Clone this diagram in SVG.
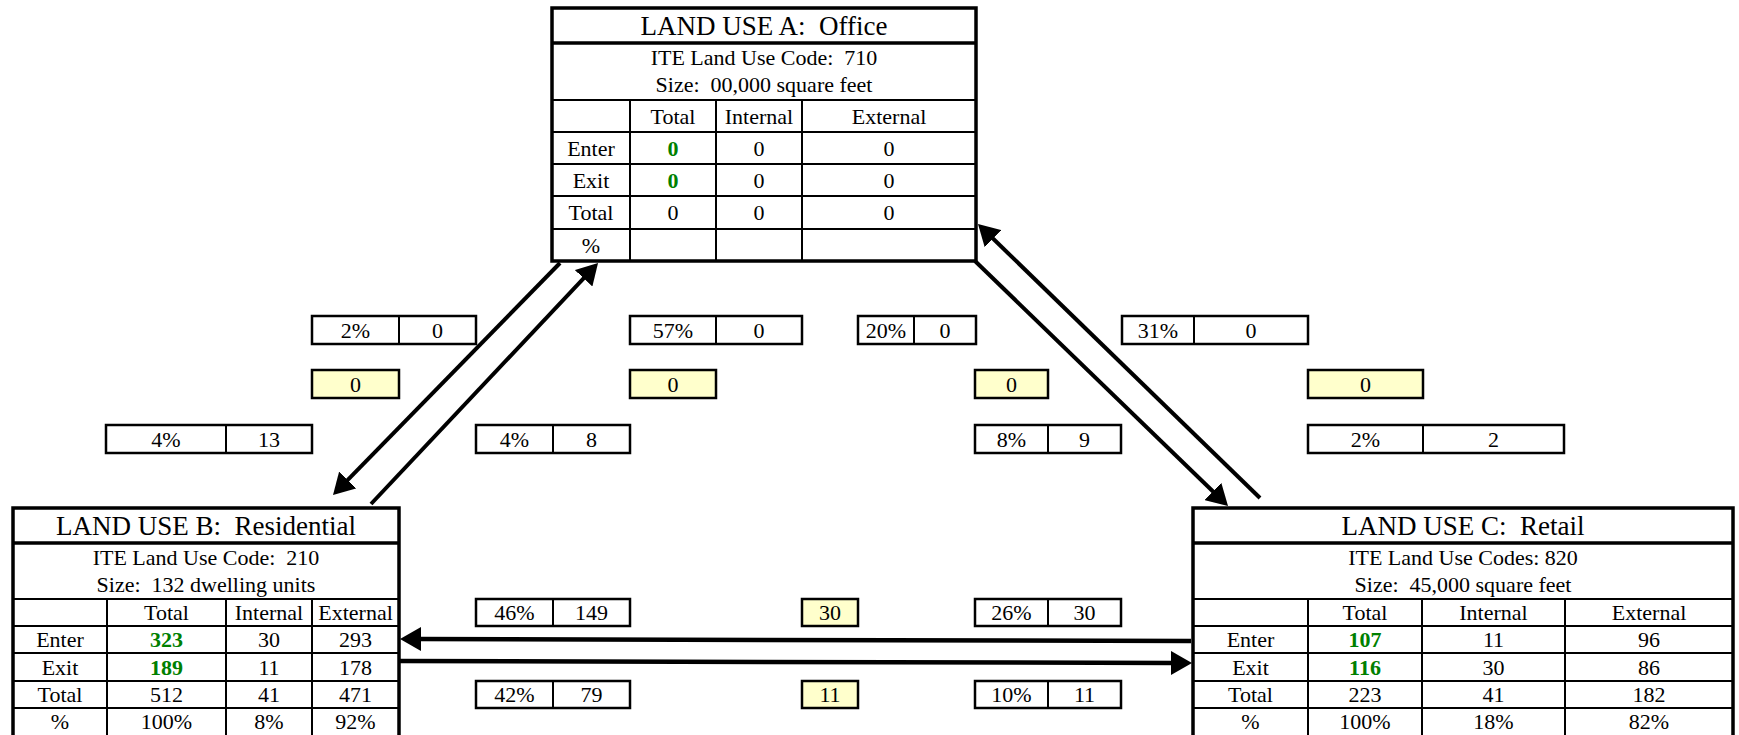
<svg xmlns="http://www.w3.org/2000/svg" width="1739" height="735" viewBox="0 0 1739 735" xml:space="preserve">
  <defs>
    <style>
      text { font-family: "Liberation Serif", "Times New Roman", serif; fill: #000; text-anchor: middle; white-space: pre; }
      .title { font-size: 27px; }
      .sub { font-size: 22px; }
      .cell { font-size: 22px; }
      .green { fill: #008000; font-weight: bold; }
      .frame { fill: #fff; stroke: #000; stroke-width: 3.5; }
      .thick { stroke: #000; stroke-width: 3.5; }
      .grid { stroke: #000; stroke-width: 2; }
      .box { fill: #fff; stroke: #000; stroke-width: 2.5; }
      .ybox { fill: #ffffcc; stroke: #000; stroke-width: 2.5; }
      .conn { fill: none; stroke: #000; stroke-width: 4; marker-end: url(#ah); }
      .hconn { fill: none; stroke: #000; stroke-width: 4.5; marker-end: url(#ah); }
    </style>
    <marker id="ah" markerUnits="userSpaceOnUse" markerWidth="22" markerHeight="24" viewBox="0 0 22 24" refX="3" refY="12" orient="auto">
      <path d="M0,0 L21,12 L0,24 z" fill="#000"/>
    </marker>
  </defs>

  <rect width="1739" height="735" fill="#fff"/>

  <!-- Land use A: Office -->
  <g id="land-use-a">
    <rect class="frame" x="552" y="8" width="424" height="253"/>
    <line class="thick" x1="552" y1="43" x2="976" y2="43"/>
    <line class="grid" x1="552" y1="100" x2="976" y2="100"/>
    <line class="grid" x1="552" y1="132" x2="976" y2="132"/>
    <line class="grid" x1="552" y1="164" x2="976" y2="164"/>
    <line class="grid" x1="552" y1="196" x2="976" y2="196"/>
    <line class="grid" x1="552" y1="229" x2="976" y2="229"/>
    <line class="grid" x1="630" y1="100" x2="630" y2="261"/>
    <line class="grid" x1="716" y1="100" x2="716" y2="261"/>
    <line class="grid" x1="802" y1="100" x2="802" y2="261"/>
    <text class="title" x="764" y="35">LAND USE A:  Office</text>
    <text class="sub" x="764" y="65">ITE Land Use Code:  710</text>
    <text class="sub" x="764" y="92">Size:  00,000 square feet</text>
    <g class="cell">
      <text x="673" y="124">Total</text><text x="759" y="124">Internal</text><text x="889" y="124">External</text>
      <text x="591" y="156">Enter</text><text class="green" x="673" y="156">0</text><text x="759" y="156">0</text><text x="889" y="156">0</text>
      <text x="591" y="188">Exit</text><text class="green" x="673" y="188">0</text><text x="759" y="188">0</text><text x="889" y="188">0</text>
      <text x="591" y="220">Total</text><text x="673" y="220">0</text><text x="759" y="220">0</text><text x="889" y="220">0</text>
      <text x="591" y="253">%</text>
    </g>
  </g>

  <!-- Land use B: Residential -->
  <g id="land-use-b">
    <rect class="frame" x="13" y="508" width="386" height="232"/>
    <line class="thick" x1="13" y1="543" x2="399" y2="543"/>
    <line class="grid" x1="13" y1="599" x2="399" y2="599"/>
    <line class="grid" x1="13" y1="626" x2="399" y2="626"/>
    <line class="grid" x1="13" y1="653" x2="399" y2="653"/>
    <line class="grid" x1="13" y1="681" x2="399" y2="681"/>
    <line class="grid" x1="13" y1="708" x2="399" y2="708"/>
    <line class="grid" x1="107" y1="599" x2="107" y2="740"/>
    <line class="grid" x1="226" y1="599" x2="226" y2="740"/>
    <line class="grid" x1="312" y1="599" x2="312" y2="740"/>
    <text class="title" x="206" y="535">LAND USE B:  Residential</text>
    <text class="sub" x="206" y="565">ITE Land Use Code:  210</text>
    <text class="sub" x="206" y="592">Size:  132 dwelling units</text>
    <g class="cell">
      <text x="166.5" y="620">Total</text><text x="269" y="620">Internal</text><text x="355.5" y="620">External</text>
      <text x="60" y="647">Enter</text><text class="green" x="166.5" y="647">323</text><text x="269" y="647">30</text><text x="355.5" y="647">293</text>
      <text x="60" y="674.5">Exit</text><text class="green" x="166.5" y="674.5">189</text><text x="269" y="674.5">11</text><text x="355.5" y="674.5">178</text>
      <text x="60" y="702">Total</text><text x="166.5" y="702">512</text><text x="269" y="702">41</text><text x="355.5" y="702">471</text>
      <text x="60" y="729">%</text><text x="166.5" y="729">100%</text><text x="269" y="729">8%</text><text x="355.5" y="729">92%</text>
    </g>
  </g>

  <!-- Land use C: Retail -->
  <g id="land-use-c">
    <rect class="frame" x="1193" y="508" width="540" height="232"/>
    <line class="thick" x1="1193" y1="543" x2="1733" y2="543"/>
    <line class="grid" x1="1193" y1="599" x2="1733" y2="599"/>
    <line class="grid" x1="1193" y1="626" x2="1733" y2="626"/>
    <line class="grid" x1="1193" y1="653" x2="1733" y2="653"/>
    <line class="grid" x1="1193" y1="681" x2="1733" y2="681"/>
    <line class="grid" x1="1193" y1="708" x2="1733" y2="708"/>
    <line class="grid" x1="1308" y1="599" x2="1308" y2="740"/>
    <line class="grid" x1="1422" y1="599" x2="1422" y2="740"/>
    <line class="grid" x1="1565" y1="599" x2="1565" y2="740"/>
    <text class="title" x="1463" y="535">LAND USE C:  Retail</text>
    <text class="sub" x="1463" y="565">ITE Land Use Codes: 820</text>
    <text class="sub" x="1463" y="592">Size:  45,000 square feet</text>
    <g class="cell">
      <text x="1365" y="620">Total</text><text x="1493.5" y="620">Internal</text><text x="1649" y="620">External</text>
      <text x="1250.5" y="647">Enter</text><text class="green" x="1365" y="647">107</text><text x="1493.5" y="647">11</text><text x="1649" y="647">96</text>
      <text x="1250.5" y="674.5">Exit</text><text class="green" x="1365" y="674.5">116</text><text x="1493.5" y="674.5">30</text><text x="1649" y="674.5">86</text>
      <text x="1250.5" y="702">Total</text><text x="1365" y="702">223</text><text x="1493.5" y="702">41</text><text x="1649" y="702">182</text>
      <text x="1250.5" y="729">%</text><text x="1365" y="729">100%</text><text x="1493.5" y="729">18%</text><text x="1649" y="729">82%</text>
    </g>
  </g>

  <!-- Internal trip split boxes -->
  <g id="trip-splits" class="cell">
    <!-- upper row: share and trips -->
    <rect class="box" x="312" y="316" width="164" height="28"/><line class="grid" x1="399" y1="316" x2="399" y2="344"/>
    <text x="355.5" y="338">2%</text><text x="437.5" y="338">0</text>
    <rect class="box" x="630" y="316" width="172" height="28"/><line class="grid" x1="716" y1="316" x2="716" y2="344"/>
    <text x="673" y="338">57%</text><text x="759" y="338">0</text>
    <rect class="box" x="858" y="316" width="118" height="28"/><line class="grid" x1="914" y1="316" x2="914" y2="344"/>
    <text x="886" y="338">20%</text><text x="945" y="338">0</text>
    <rect class="box" x="1122" y="316" width="186" height="28"/><line class="grid" x1="1194" y1="316" x2="1194" y2="344"/>
    <text x="1158" y="338">31%</text><text x="1251" y="338">0</text>

    <!-- balanced internal trips -->
    <rect class="ybox" x="312" y="370" width="87" height="28"/><text x="355.5" y="391.5">0</text>
    <rect class="ybox" x="630" y="370" width="86" height="28"/><text x="673" y="391.5">0</text>
    <rect class="ybox" x="975" y="370" width="73" height="28"/><text x="1011.5" y="391.5">0</text>
    <rect class="ybox" x="1308" y="370" width="115" height="28"/><text x="1365.5" y="391.5">0</text>

    <!-- lower row: share and trips -->
    <rect class="box" x="106" y="425" width="206" height="28"/><line class="grid" x1="226" y1="425" x2="226" y2="453"/>
    <text x="166" y="446.5">4%</text><text x="269" y="446.5">13</text>
    <rect class="box" x="476" y="425" width="154" height="28"/><line class="grid" x1="553" y1="425" x2="553" y2="453"/>
    <text x="514.5" y="446.5">4%</text><text x="591.5" y="446.5">8</text>
    <rect class="box" x="975" y="425" width="146" height="28"/><line class="grid" x1="1048" y1="425" x2="1048" y2="453"/>
    <text x="1011.5" y="446.5">8%</text><text x="1084.5" y="446.5">9</text>
    <rect class="box" x="1308" y="425" width="256" height="28"/><line class="grid" x1="1423" y1="425" x2="1423" y2="453"/>
    <text x="1365.5" y="446.5">2%</text><text x="1493.5" y="446.5">2</text>

    <!-- B / C exchange -->
    <rect class="box" x="476" y="599" width="154" height="27"/><line class="grid" x1="553" y1="599" x2="553" y2="626"/>
    <text x="514.5" y="620">46%</text><text x="591.5" y="620">149</text>
    <rect class="ybox" x="802" y="599" width="56" height="27"/><text x="830" y="620">30</text>
    <rect class="box" x="975" y="599" width="146" height="27"/><line class="grid" x1="1048" y1="599" x2="1048" y2="626"/>
    <text x="1011.5" y="620">26%</text><text x="1084.5" y="620">30</text>

    <rect class="box" x="476" y="681" width="154" height="27"/><line class="grid" x1="553" y1="681" x2="553" y2="708"/>
    <text x="514.5" y="702">42%</text><text x="591.5" y="702">79</text>
    <rect class="ybox" x="802" y="681" width="56" height="27"/><text x="830" y="702">11</text>
    <rect class="box" x="975" y="681" width="146" height="27"/><line class="grid" x1="1048" y1="681" x2="1048" y2="708"/>
    <text x="1011.5" y="702">10%</text><text x="1084.5" y="702">11</text>
  </g>

  <!-- Trip flows between land uses -->
  <g id="connectors">
    <line class="conn" x1="560" y1="263" x2="345.6" y2="482.1"/>
    <line class="conn" x1="371" y1="504" x2="585.7" y2="276.1"/>
    <line class="conn" x1="975" y1="261" x2="1215.1" y2="493.5"/>
    <line class="conn" x1="1260" y1="498" x2="990.9" y2="236.5"/>
    <line class="hconn" x1="1191" y1="641" x2="418" y2="639"/>
    <line class="hconn" x1="399" y1="661" x2="1174" y2="663"/>
  </g>
</svg>
